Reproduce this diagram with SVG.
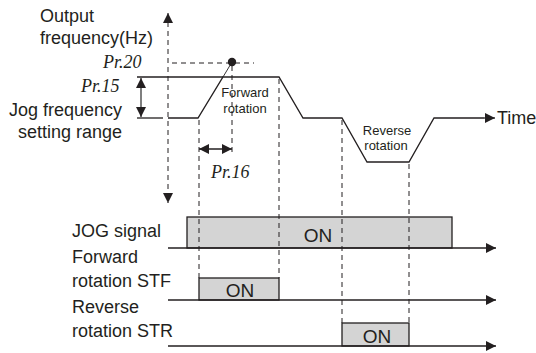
<svg xmlns="http://www.w3.org/2000/svg" width="536" height="353" viewBox="0 0 536 353">
<style>
.t{font-family:"Liberation Sans",Arial,sans-serif;font-size:18px;fill:#231f20}
.s{font-family:"Liberation Sans",Arial,sans-serif;font-size:13px;fill:#231f20}
.p{font-family:"Liberation Serif","Times New Roman",serif;font-style:italic;font-size:18px;fill:#231f20}
.ln{stroke:#231f20;stroke-width:1.3;fill:none}
.dash{stroke:#231f20;stroke-width:1;stroke-dasharray:5 4;fill:none}
.box{fill:#d4d4d4;stroke:#231f20;stroke-width:1.3}
.arr{marker-end:url(#ah)}
.dbl{marker-start:url(#ah);marker-end:url(#ah)}
</style>
<defs>
<marker id="ah" viewBox="0 0 10 10" refX="10" refY="5" markerWidth="11" markerHeight="10" markerUnits="userSpaceOnUse" orient="auto-start-reverse">
<path d="M0,0 L10,5 L0,10 z" fill="#231f20"/>
</marker>
</defs>

<g id="labels">
<text class="t" x="40" y="22">Output</text>
<text class="t" x="40" y="44">frequency(Hz)</text>
<text class="p" x="103" y="68">Pr.20</text>
<text class="p" x="81" y="92">Pr.15</text>
<text class="t" x="9" y="116">Jog frequency</text>
<text class="t" x="18" y="138">setting range</text>
<text class="p" x="211" y="178">Pr.16</text>
<text class="t" x="497" y="124">Time</text>
<text class="t" x="72" y="237">JOG signal</text>
<text class="t" x="72" y="263">Forward</text>
<text class="t" x="72" y="287">rotation STF</text>
<text class="t" x="72" y="313">Reverse</text>
<text class="t" x="72" y="337">rotation STR</text>
</g>

<g id="output-waveform">
<polyline class="ln" points="168,118 198,118 223,77 279,77 303,118 342,118 367,162 409,162 434,118 484,118"/>
<line class="ln" x1="137" y1="77" x2="223" y2="77"/>
<line class="ln" x1="137" y1="118" x2="163" y2="118"/>
<line x1="223" y1="77" x2="232" y2="62" stroke="#231f20" stroke-width="0.9"/>
<circle cx="232" cy="62" r="4.2" fill="#231f20"/>
<text class="s" x="245" y="97" text-anchor="middle">Forward</text>
<text class="s" x="245" y="113" text-anchor="middle">rotation</text>
<text class="s" x="387" y="135" text-anchor="middle">Reverse</text>
<text class="s" x="386" y="150" text-anchor="middle">rotation</text>
</g>

<g id="jog-signal">
<rect class="box" x="187" y="217" width="265" height="31"/>
<text class="t" x="318" y="242" text-anchor="middle" style="font-size:19px">ON</text>
</g>
<g id="stf-signal">
<rect class="box" x="199" y="278" width="80" height="22"/>
<text class="t" x="240" y="297" text-anchor="middle" style="font-size:19px">ON</text>
</g>
<g id="str-signal">
<rect class="box" x="342" y="323" width="67" height="23"/>
<text class="t" x="377" y="343" text-anchor="middle" style="font-size:19px">ON</text>
</g>

<g id="connectors">
<line class="dash dbl" x1="168" y1="13" x2="168" y2="203"/>
<line class="dash" x1="172" y1="63" x2="254" y2="63"/>
<line class="ln arr" x1="484" y1="118" x2="495" y2="118"/>
<line class="dbl" x1="141" y1="78" x2="141" y2="117" stroke="#555" stroke-width="1.5"/>
<line class="dbl" x1="199" y1="149" x2="232" y2="149" stroke="#231f20" stroke-width="1.3"/>
<line class="dash" x1="199" y1="120" x2="199" y2="278"/>
<line class="dash" x1="232" y1="66" x2="232" y2="154"/>
<line class="dash" x1="279" y1="79" x2="279" y2="278"/>
<line class="dash" x1="342" y1="120" x2="342" y2="323"/>
<line class="dash" x1="409" y1="164" x2="409" y2="323"/>
<line class="ln arr" x1="168" y1="248" x2="496" y2="248"/>
<line class="ln arr" x1="168" y1="300" x2="496" y2="300"/>
<line class="ln arr" x1="168" y1="346" x2="496" y2="346"/>
</g>
</svg>
